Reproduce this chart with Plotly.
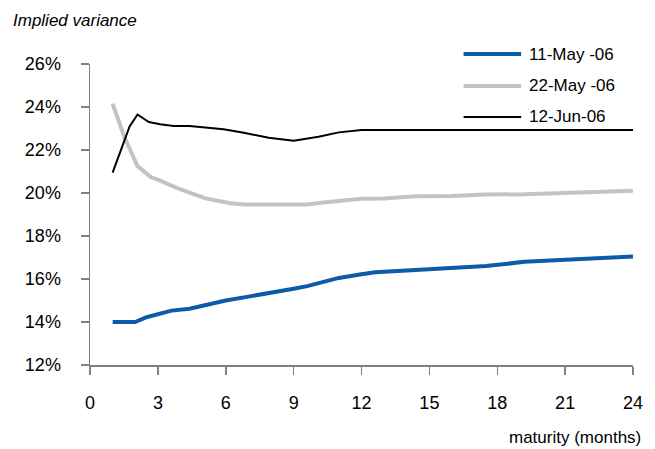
import plotly.graph_objects as go

# ---- data ----
may11_x = [1, 2, 2.5, 3, 3.6, 4.4, 5, 6, 7, 8, 9, 9.6, 10.2, 11, 12, 12.6, 14, 15.9, 17.5, 19.2, 21, 22.6, 24]
may11_y = [14.0, 14.0, 14.22, 14.36, 14.53, 14.62, 14.76, 15.0, 15.18, 15.35, 15.55, 15.67, 15.83, 16.05, 16.22, 16.31, 16.4, 16.5, 16.6, 16.8, 16.88, 16.96, 17.05]

may22_x = [1, 1.5, 2.1, 2.7, 3, 3.8, 5.1, 6.2, 6.8, 8, 9, 9.6, 10.2, 11, 12, 13, 14.4, 16, 17.4, 19.2, 21, 22.6, 24]
may22_y = [24.15, 22.65, 21.25, 20.73, 20.62, 20.25, 19.75, 19.52, 19.47, 19.47, 19.47, 19.47, 19.55, 19.65, 19.73, 19.75, 19.85, 19.86, 19.93, 19.94, 20.0, 20.02, 20.1]

jun12_x = [1, 1.75, 2.1, 2.6, 3.1, 3.7, 4.4, 5.9, 6.8, 7.9, 9, 10.1, 11, 12, 24]
jun12_y = [20.95, 23.1, 23.65, 23.3, 23.2, 23.12, 23.12, 22.96, 22.8, 22.57, 22.43, 22.62, 22.82, 22.93, 22.93]

series_names = ["11-May -06", "22-May -06", "12-Jun-06"]
x_ticks = [0, 3, 6, 9, 12, 15, 18, 21, 24]
y_ticks = [12, 14, 16, 18, 20, 22, 24, 26]
y_tick_labels = [f"{v}%" for v in y_ticks]

BLUE = "#0B5BA8"
GREY = "#C3C3C3"
BLACK = "#000000"
AXIS = "#808080"
FONT = "Liberation Sans, Arial, sans-serif"

fig = go.Figure()
fig.add_trace(go.Scatter(x=may22_x, y=may22_y, mode="lines", name=series_names[1],
                         line=dict(color=GREY, width=4), showlegend=False, hoverinfo="skip"))
fig.add_trace(go.Scatter(x=may11_x, y=may11_y, mode="lines", name=series_names[0],
                         line=dict(color=BLUE, width=4), showlegend=False, hoverinfo="skip"))
fig.add_trace(go.Scatter(x=jun12_x, y=jun12_y, mode="lines", name=series_names[2],
                         line=dict(color=BLACK, width=2), showlegend=False, hoverinfo="skip"))

# manual legend (longer line samples as in the reference)
leg_colors = [BLUE, GREY, BLACK]
leg_widths = [4, 4, 2]
leg_rows = [1.033, 0.927, 0.824]
for name, col, w, yy in zip(series_names, leg_colors, leg_widths, leg_rows):
    fig.add_shape(type="line", xref="paper", yref="paper", x0=0.688, x1=0.794, y0=yy, y1=yy,
                  line=dict(color=col, width=w))
    fig.add_annotation(xref="paper", yref="paper", x=0.804, y=yy, text=name, showarrow=False,
                       xanchor="left", yanchor="middle", font=dict(family=FONT, size=17, color="black"))

fig.add_annotation(xref="paper", yref="paper", x=-0.146, y=1.146, text="<i>Implied variance</i>",
                   showarrow=False, xanchor="left", yanchor="middle",
                   font=dict(family=FONT, size=17, color="black"))
fig.add_annotation(xref="paper", yref="paper", x=1.018, y=-0.2425, text="maturity (months)",
                   showarrow=False, xanchor="right", yanchor="middle",
                   font=dict(family=FONT, size=17, color="black"))

fig.update_xaxes(range=[0, 24], tickvals=x_ticks, showgrid=False, zeroline=False,
                 showline=True, linecolor=AXIS, linewidth=1.5, ticks="outside", ticklen=8,
                 tickwidth=1.5, tickcolor=AXIS, ticklabelstandoff=13,
                 tickfont=dict(family=FONT, size=18, color="black"))
fig.update_yaxes(range=[12, 26], tickvals=y_ticks, ticktext=y_tick_labels, showgrid=False,
                 zeroline=False, showline=True, linecolor=AXIS, linewidth=1.5, ticks="outside",
                 ticklen=8, tickwidth=1.5, tickcolor=AXIS, ticklabelstandoff=16,
                 tickfont=dict(family=FONT, size=18, color="black"))

fig.update_layout(width=655, height=449, margin=dict(l=90, r=20, t=64, b=84),
                  paper_bgcolor="white", plot_bgcolor="white", showlegend=False,
                  hovermode=False)

fig.write_html("out.html", config={"displayModeBar": False, "staticPlot": True},
               post_script="document.body.style.margin='0';document.body.style.overflow='hidden';")
